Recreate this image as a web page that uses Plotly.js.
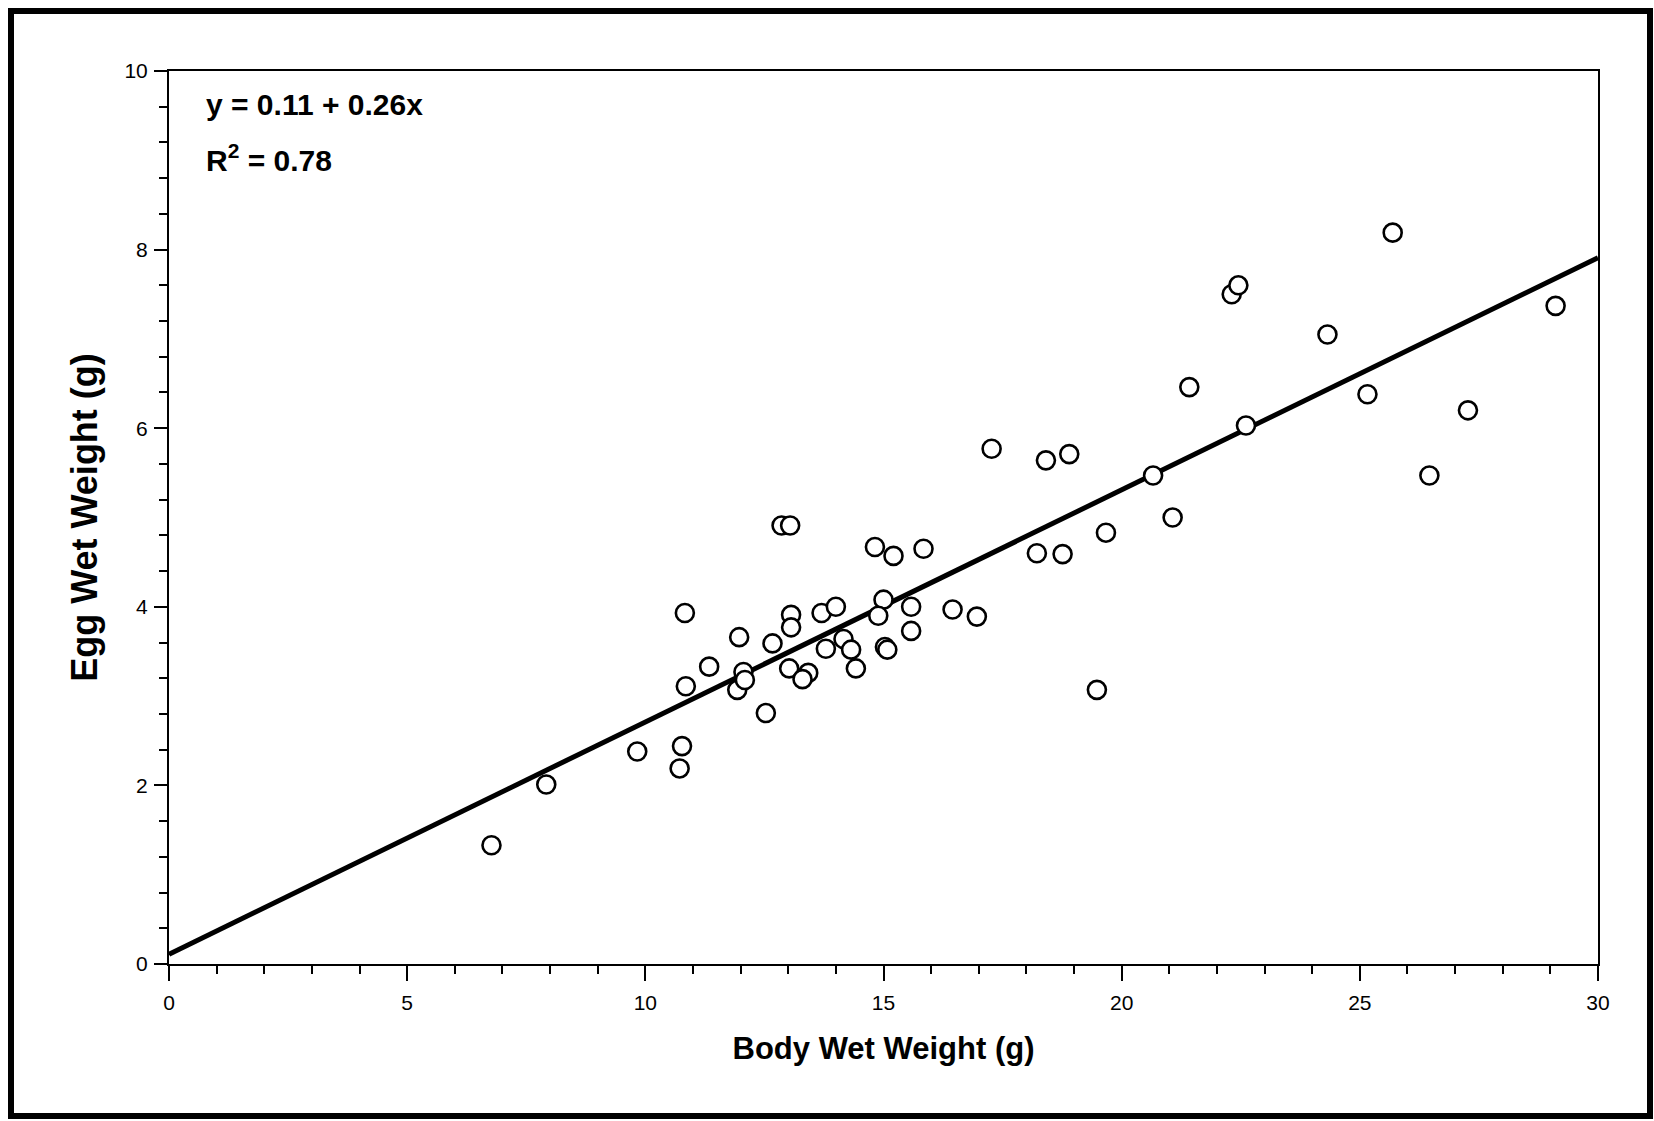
<!DOCTYPE html>
<html>
<head>
<meta charset="utf-8">
<script src="https://cdn.plot.ly/plotly-3.0.1.min.js"></script>
<style>
  html, body { margin: 0; padding: 0; background: #ffffff; }
  #chart { width: 1654px; height: 1121px; }
</style>
</head>
<body>
<div id="chart"></div>
<script>
// Observed data: body wet weight (g) vs egg wet weight (g)
const bodyWetWeight = [
  6.77, 7.92, 9.83, 10.72, 10.77, 10.85, 10.83, 11.34, 11.93, 11.97,
  12.06, 12.09, 12.53, 12.67, 12.86, 13.04, 13.06, 13.06, 13.02, 13.42,
  13.30, 13.70, 14.00, 13.79, 14.16, 14.32, 14.42, 14.82, 15.00, 14.89,
  15.03, 15.08, 15.21, 15.58, 15.58, 15.84, 16.45, 16.96, 17.27, 18.22,
  18.41, 18.76, 18.90, 19.48, 19.67, 20.66, 21.07, 21.42, 22.31, 22.45,
  22.61, 24.32, 25.16, 25.69, 26.46, 27.27, 29.11
];
const eggWetWeight = [
  1.33, 2.01, 2.38, 2.19, 2.44, 3.11, 3.93, 3.33, 3.07, 3.66,
  3.27, 3.18, 2.81, 3.59, 4.91, 4.91, 3.91, 3.77, 3.31, 3.26,
  3.19, 3.93, 4.00, 3.53, 3.64, 3.52, 3.31, 4.67, 4.08, 3.90,
  3.55, 3.52, 4.57, 4.00, 3.73, 4.65, 3.97, 3.89, 5.77, 4.60,
  5.64, 4.59, 5.71, 3.07, 4.83, 5.47, 5.00, 6.46, 7.50, 7.60,
  6.03, 7.05, 6.38, 8.19, 5.47, 6.20, 7.37
];

// Fitted regression line end points (y = 0.11 + 0.26x)
const fitLineX = [0, 30];
const fitLineY = [0.11, 7.91];

// Axis tick values / labels
const xTickVals = [0, 5, 10, 15, 20, 25, 30];
const xTickText = ["0", "5", "10", "15", "20", "25", "30"];
const yTickVals = [0, 2, 4, 6, 8, 10];
const yTickText = ["0", "2", "4", "6", "8", "10"];

const equationText = "y = 0.11 + 0.26x";
const r2Text = "R<sup>2</sup> = 0.78";
const xTitle = "Body Wet Weight (g)";
const yTitle = "Egg Wet Weight (g)";

const FAMILY = "Liberation Sans, Arial, Helvetica, sans-serif";
const tickFont = { family: FAMILY, size: 21, color: "#000" };

const traces = [
  {
    x: fitLineX, y: fitLineY,
    type: "scatter", mode: "lines",
    line: { color: "#000", width: 5 },
    hoverinfo: "skip", showlegend: false
  },
  {
    x: bodyWetWeight, y: eggWetWeight,
    type: "scatter", mode: "markers",
    marker: { symbol: "circle", size: 18, color: "#ffffff", line: { color: "#000", width: 2.6 } },
    showlegend: false
  }
];

// Plot area geometry (px) for the decorative outer frame
const L = 169, R = 56, T = 71, B = 157, W = 1654, H = 1121;
const pw = W - L - R, ph = H - T - B;
const px = v => (v - L) / pw;
const py = v => (H - B - v) / ph;

const layout = {
  width: W, height: H,
  margin: { l: L, r: R, t: T, b: B, pad: 0 },
  paper_bgcolor: "#ffffff",
  plot_bgcolor: "#ffffff",
  showlegend: false,
  xaxis: {
    range: [0, 30],
    tickvals: xTickVals, ticktext: xTickText,
    ticks: "outside", ticklen: 15, tickwidth: 2, tickcolor: "#000",
    minor: { dtick: 1, ticks: "outside", ticklen: 8, tickwidth: 2, tickcolor: "#000", showgrid: false },
    showgrid: false, zeroline: false,
    showline: true, linecolor: "#000", linewidth: 2, mirror: true,
    tickfont: tickFont,
    ticklabelstandoff: 4,
    title: { text: xTitle, font: { family: FAMILY, size: 31, color: "#000", weight: "bold" }, standoff: 24 }
  },
  yaxis: {
    range: [0, 10],
    tickvals: yTickVals, ticktext: yTickText,
    ticks: "outside", ticklen: 13, tickwidth: 2, tickcolor: "#000",
    minor: { dtick: 0.4, tick0: 0, ticks: "outside", ticklen: 8, tickwidth: 2, tickcolor: "#000", showgrid: false },
    showgrid: false, zeroline: false,
    showline: true, linecolor: "#000", linewidth: 2, mirror: true,
    tickfont: tickFont,
    ticklabelstandoff: 2,
    title: { text: yTitle, font: { family: FAMILY, size: 36, color: "#000", weight: "bold" }, standoff: 16 }
  },
  annotations: [
    {
      xref: "paper", yref: "paper", x: px(204), y: py(105),
      xanchor: "left", yanchor: "middle", showarrow: false,
      text: equationText,
      font: { family: FAMILY, size: 30, color: "#000", weight: "bold" }
    },
    {
      xref: "paper", yref: "paper", x: px(204), y: py(158),
      xanchor: "left", yanchor: "middle", showarrow: false,
      text: r2Text,
      font: { family: FAMILY, size: 30, color: "#000", weight: "bold" }
    }
  ],
  shapes: [
    {
      type: "rect", xref: "paper", yref: "paper",
      x0: px(11), x1: px(1650), y0: py(1116), y1: py(11),
      line: { color: "#000", width: 6 }, fillcolor: "rgba(0,0,0,0)", layer: "above"
    }
  ]
};

Plotly.newPlot("chart", traces, layout, { displayModeBar: false, staticPlot: true });
</script>
</body>
</html>
